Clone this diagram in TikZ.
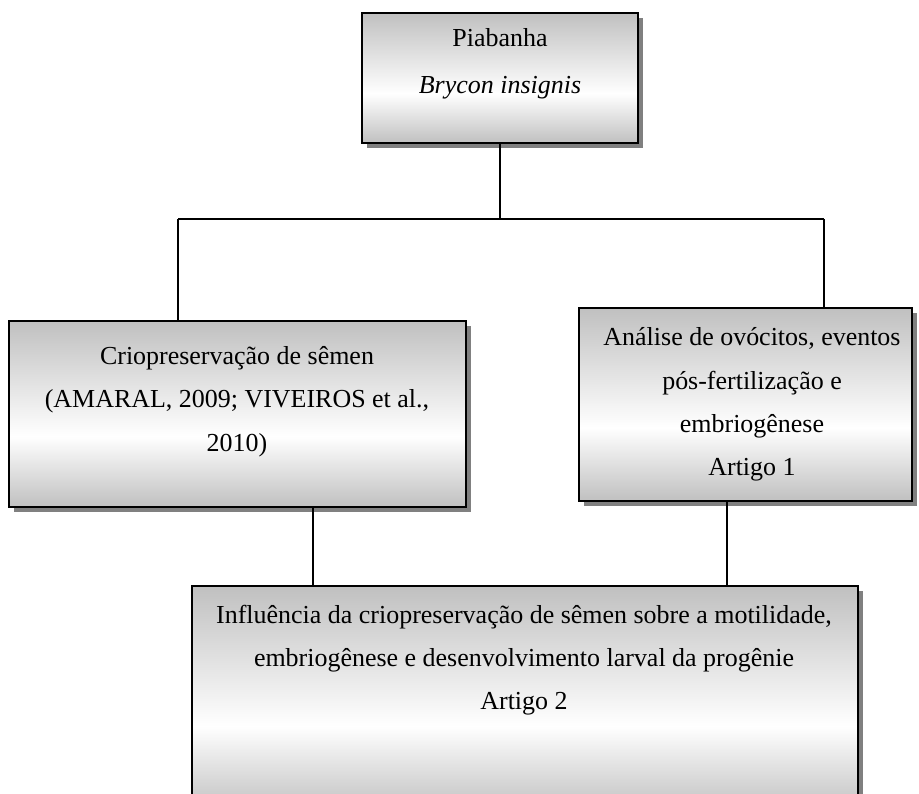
\documentclass[tikz,border=0pt]{standalone}
\usepackage{fontspec}
\setmainfont{Liberation Serif}
\usetikzlibrary{fit,shadows}
\definecolor{bxg}{RGB}{192,192,192}
\definecolor{shg}{RGB}{128,128,128}
\pgfdeclareverticalshading{boxgrad}{100bp}{color(0bp)=(bxg); color(25bp)=(bxg); color(44bp)=(white); color(75bp)=(bxg); color(100bp)=(bxg)}
\tikzset{
  box/.style={rectangle, draw=black, line width=0.9pt, shading=boxgrad, inner sep=0pt,
    drop shadow={shadow xshift=2.4pt, shadow yshift=-2.4pt, fill=shg, opacity=1}},
  conn/.style={draw=black, line width=0.6pt},
  lbl/.style={anchor=base, inner sep=0pt, font=\fontsize{11.8pt}{14pt}\selectfont}
}
\begin{document}
\begin{tikzpicture}[x=0.4545pt, y=-0.4545pt]
\useasboundingbox (0,0) rectangle (919,794);
% boxes
\coordinate (tA) at (362,13);  \coordinate (tB) at (638,143);
\coordinate (lA) at (9,321);   \coordinate (lB) at (466,507);
\coordinate (rA) at (579,308); \coordinate (rB) at (912,501);
\coordinate (bA) at (192,586); \coordinate (bB) at (858,812);
\node[box, fit=(tA)(tB)] (top) {};
\node[box, fit=(lA)(lB)] (left) {};
\node[box, fit=(rA)(rB)] (right) {};
\node[box, fit=(bA)(bB)] (bottom) {};
% texts
\node[lbl] (t1) at (500,47) {Piabanha};
\node[lbl] (t2) at (500,94) {\textit{Brycon insignis}};
\node[lbl] (l1) at (237,364) {Criopreservação de sêmen};
\node[lbl] (l2) at (237,407) {(AMARAL, 2009; VIVEIROS et al.,};
\node[lbl] (l3) at (237,451) {2010)};
\node[lbl] (r1) at (752,345) {Análise de ovócitos, eventos};
\node[lbl] (r2) at (752,389) {pós-fertilização e};
\node[lbl] (r3) at (752,432) {embriogênese};
\node[lbl] (r4) at (752,475) {Artigo 1};
\node[lbl] (b1) at (524,623) {Influência da criopreservação de sêmen sobre a motilidade,};
\node[lbl] (b2) at (524,666) {embriogênese e desenvolvimento larval da progênie};
\node[lbl] (b3) at (524,709) {Artigo 2};
% connectors
\coordinate (hl) at (178,219);
\coordinate (hr) at (824,219);
\coordinate (bl) at (313,0);
\coordinate (br) at (727,0);
\draw[conn] (hl) -- (hr);
\draw[conn] (top.south) -- (top.south |- hl);
\draw[conn] (hl) -- (hl |- left.north);
\draw[conn] (hr) -- (hr |- right.north);
\draw[conn] (bl |- left.south) -- (bl |- bottom.north);
\draw[conn] (br |- right.south) -- (br |- bottom.north);
\end{tikzpicture}
\end{document}
